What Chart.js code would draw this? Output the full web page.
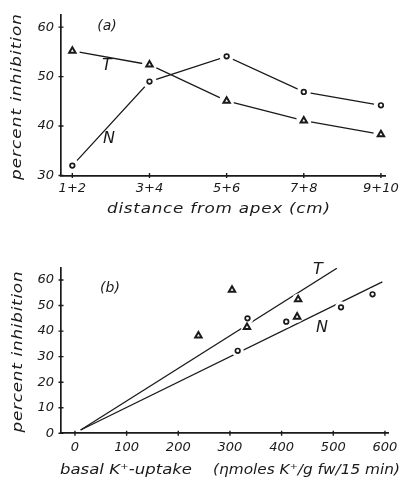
<!DOCTYPE html>
<html>
<head>
<meta charset="utf-8">
<script src="https://cdn.jsdelivr.net/npm/chart.js@4.4.0/dist/chart.umd.min.js"></script>
<style>
  html, body { margin: 0; padding: 0; background: #fff; }
  #wrap { position: relative; width: 404px; height: 479px; overflow: hidden; }
  canvas { position: absolute; left: 0; }
  #chartA { top: 0; }
  #chartB { top: 225px; }
</style>
</head>
<body>
<div id="wrap">
  <canvas id="chartA" width="404" height="225"></canvas>
  <canvas id="chartB" width="404" height="254"></canvas>
</div>
<script>
// (a) percent inhibition against distance from apex
const distLabels = ['1+2', '3+4', '5+6', '7+8', '9+10'];
const inhibT = [55.2, 52.4, 45.1, 41.1, 38.3];
const inhibN = [32.0, 49.0, 54.1, 46.9, 44.2];
const ticksAy = [30, 40, 50, 60];

// (b) percent inhibition against basal K+ uptake
const uptakeT = [239, 304, 333, 432, 430];
const inhibTb = [38.2, 56.1, 41.5, 52.4, 45.6];
const uptakeN = [315, 334, 409, 515, 576];
const inhibNb = [32.3, 45.0, 43.7, 49.3, 54.4];
// fitted lines, end points
const fitTx = [11, 507];
const fitTy = [1.3, 64.6];
const fitNx = [11, 595];
const fitNy = [1.3, 59.3];
const ticksBx = [0, 100, 200, 300, 400, 500, 600];
const ticksBy = [0, 10, 20, 30, 40, 50, 60];

const INK = '#1a1a1a';
const FAM = '"DejaVu Sans", sans-serif';

function pts(xs, ys) { return xs.map((x, i) => ({ x: x, y: ys[i] })); }

// free text: panel letters, curve names, axis titles (stretched to the width in the picture)
function textPlugin(items) {
  return {
    id: 'texts',
    afterDraw(chart) {
      const ctx = chart.ctx;
      items.forEach(t => {
        ctx.save();
        ctx.font = 'italic ' + t.size + 'px ' + FAM;
        ctx.fillStyle = INK;
        ctx.textBaseline = 'middle';
        ctx.textAlign = 'left';
        const hasLS = 'letterSpacing' in ctx;
        if (hasLS) ctx.letterSpacing = '0px';
        const w0 = ctx.measureText(t.text).width;
        const n = [...t.text].length;
        let sx = 1, sp = 0;
        if (t.width) {
          sx = Math.min(t.width / w0, 1.2);
          if (hasLS) {
            sp = (t.width - w0 * sx) / (n - 1) / sx;
            ctx.letterSpacing = sp.toFixed(2) + 'px';
          }
        }
        const w = w0 + sp * (n - 1);
        ctx.translate(t.x, t.y);
        if (t.rotate) ctx.rotate(t.rotate);
        ctx.scale(sx, 1);
        ctx.fillText(t.text, t.left ? 0 : -w / 2, 0);
        ctx.restore();
      });
    }
  };
}

// small crosses on the axes at each tick
const crossTicks = {
  id: 'crossTicks',
  afterDraw(chart) {
    const { ctx, chartArea: a, scales: { x, y } } = chart;
    ctx.save();
    ctx.strokeStyle = INK;
    ctx.lineWidth = 1.4;
    ctx.beginPath();
    x.ticks.forEach(t => {
      const px = x.getPixelForValue(t.value);
      ctx.moveTo(px, a.bottom - 2.5); ctx.lineTo(px, a.bottom + 2.5);
    });
    y.ticks.forEach(t => {
      const py = y.getPixelForValue(t.value);
      ctx.moveTo(a.left - 2.5, py); ctx.lineTo(a.left + 2.5, py);
    });
    ctx.stroke();
    ctx.restore();
  }
};

function lineSet(data) {
  return { data, showLine: true, borderColor: INK, borderWidth: 1.3, pointRadius: 0, order: 3 };
}
// white disc under each marker so the lines stop short of it
function haloSet(data, r) {
  return { data, showLine: false, pointRadius: r, pointBackgroundColor: '#fff', pointBorderWidth: 0, pointBorderColor: '#fff', order: 2 };
}
function markSet(data, style) {
  const tri = style === 'triangle';
  return {
    data, showLine: false, pointStyle: style,
    pointRadius: tri ? 3.7 : 2.3, pointBorderWidth: tri ? 2 : 1.7,
    pointBorderColor: INK, pointBackgroundColor: '#fff', order: 1
  };
}

function axis(min, max, tickVals, size, pad, labelFn) {
  return {
    type: 'linear', min, max, bounds: 'data',
    afterBuildTicks: s => { s.ticks = tickVals.map(v => ({ value: v })); },
    afterFit: s => { if (s.isHorizontal()) s.height = size; else s.width = size; },
    grid: { display: false, drawTicks: false },
    border: { display: true, color: INK, width: 1.7 },
    ticks: {
      padding: pad, color: INK, autoSkip: false, maxRotation: 0,
      font: { family: FAM, size: 13, style: 'italic' },
      callback: labelFn || (v => String(v))
    }
  };
}

const baseOpts = {
  responsive: false,
  animation: false,
  plugins: { legend: { display: false }, tooltip: { enabled: false } }
};

// panel (a)
const posA = distLabels.map((_, i) => i);
const aT = pts(posA, inhibT);
const aN = pts(posA, inhibN);
new Chart(document.getElementById('chartA'), {
  type: 'scatter',
  data: {
    datasets: [
      lineSet(aT), lineSet(aN),
      haloSet(aT, 7.5), haloSet(aN, 7),
      markSet(aT, 'triangle'), markSet(aN, 'circle')
    ]
  },
  options: Object.assign({}, baseOpts, {
    layout: { padding: { left: 0, top: 5, right: 14, bottom: 24.5 } },
    scales: {
      x: axis(-0.147, 4.065, posA, 25, 5, v => distLabels[Math.round(v)]),
      y: axis(30, 62.5, ticksAy, 61, 7)
    }
  }),
  plugins: [crossTicks, textPlugin([
    { text: '(a)', x: 107, y: 26, size: 14 },
    { text: 'T', x: 107, y: 66, size: 16 },
    { text: 'N', x: 109, y: 139, size: 16 },
    { text: 'percent inhibition', x: 17, y: 97, size: 14, width: 166, rotate: -Math.PI / 2 },
    { text: 'distance from apex (cm)', x: 218.5, y: 209, size: 14, width: 223 }
  ])]
});

// panel (b)
const bT = pts(uptakeT, inhibTb);
const bN = pts(uptakeN, inhibNb);
new Chart(document.getElementById('chartB'), {
  type: 'scatter',
  data: {
    datasets: [
      lineSet(pts(fitTx, fitTy)), lineSet(pts(fitNx, fitNy)),
      haloSet(bT, 6), haloSet(bN, 6),
      markSet(bT, 'triangle'), markSet(bN, 'circle')
    ]
  },
  options: Object.assign({}, baseOpts, {
    layout: { padding: { left: 0, top: 43, right: 14, bottom: 20.7 } },
    scales: {
      x: axis(-27, 607, ticksBx, 25, 6.5),
      y: axis(0, 64.7, ticksBy, 61, 7)
    }
  }),
  plugins: [crossTicks, textPlugin([
    { text: '(b)', x: 110, y: 63, size: 14 },
    { text: 'T', x: 318, y: 45, size: 16 },
    { text: 'N', x: 322, y: 103, size: 16 },
    { text: 'percent inhibition', x: 18, y: 127, size: 14, width: 161, rotate: -Math.PI / 2 },
    { text: 'basal K\u207A-uptake', x: 60, y: 245, size: 14, width: 132, left: true },
    { text: '(\u03B7moles K\u207A/g fw/15 min)', x: 213, y: 245, size: 14, width: 187, left: true }
  ])]
});
</script>
</body>
</html>
